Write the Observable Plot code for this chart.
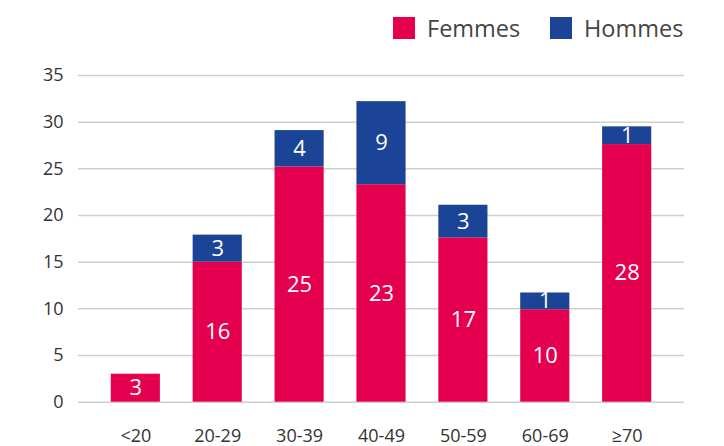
<!DOCTYPE html>
<html><head><meta charset="utf-8">
<script src="https://cdn.jsdelivr.net/npm/d3@7"></script>
<script src="https://cdn.jsdelivr.net/npm/@observablehq/plot@0.6"></script>
<style>
body{margin:0;background:#fff;font-family:"Open Sans",sans-serif;}
#wrap{position:relative;width:724px;height:446px;}
#legend{position:absolute;top:0;left:0;width:724px;height:60px;}
.item{position:absolute;top:17px;display:flex;align-items:center;height:22px;font-size:23.5px;color:#444;}
.sw{width:22px;height:22px;margin-right:12px;}
#chart{position:absolute;top:60px;left:0;}
</style></head>
<body><div id="wrap">
<div id="legend"></div>
<div id="chart"></div>
</div>
<script>
const categories = ["<20","20-29","30-39","40-49","50-59","60-69","≥70"];
const femmes = [3.0, 15.0, 25.2, 23.3, 17.6, 9.9, 27.6];
const hommes = [0, 2.9, 3.9, 8.9, 3.5, 1.8, 1.9];
const femmesLabels = ["3","16","25","23","17","10","28"];
const hommesLabels = ["","3","4","9","3","1","1"];
const series = ["Femmes","Hommes"];
const colors = ["#e4004f","#1b4396"];
const yTicks = [0,5,10,15,20,25,30,35];

const rows = [];
categories.forEach((c,i)=>{
  rows.push({cat:c, sex:"Femmes", v:femmes[i], label:femmesLabels[i]});
  if (hommes[i] > 0) rows.push({cat:c, sex:"Hommes", v:hommes[i], label:hommesLabels[i]});
});

const lg = document.getElementById("legend");
const legendX = [393, 550];
series.forEach((s,i)=>{
  const d = document.createElement("div");
  d.className="item"; d.style.left = legendX[i]+"px";
  d.innerHTML = `<span class="sw" style="background:${colors[i]}"></span><span>${s}</span>`;
  lg.appendChild(d);
});

const plot = Plot.plot({
  width: 724, height: 386,
  marginLeft: 78, marginRight: 40, marginTop: 15, marginBottom: 44.3,
  style: {fontFamily: "Open Sans, sans-serif", background: "#fff"},
  x: {domain: categories, padding: 0.4, round: false, label: null, tickSize: 0, tickPadding: 27},
  y: {domain: [0,35], ticks: yTicks, label: null, tickSize: 0, tickPadding: 15},
  color: {domain: series, range: colors},
  marks: [
    Plot.ruleY(yTicks, {stroke: "#cfcfcf", strokeWidth: 1.5}),
    Plot.barY(rows, {x: "cat", y: "v", fill: "sex", order: series}),
    Plot.text(rows, Plot.stackY({x: "cat", y: "v", z: "sex", order: series, text: "label", fill: "white", fontSize: 22, fontWeight: 500})),
    Plot.axisX({tickSize: 0, tickPadding: 27, fontSize: 18, fill: "#333"}),
    Plot.axisY({ticks: yTicks, tickSize: 0, tickPadding: 15, fontSize: 18, fill: "#333"})
  ]
});
document.getElementById("chart").appendChild(plot);
</script>
</body></html>
